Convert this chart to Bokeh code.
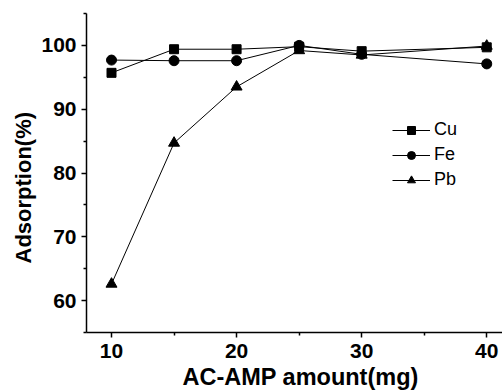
from bokeh.plotting import figure
from bokeh.models import FixedTicker, Legend, LegendItem, Range1d, Title
from bokeh.embed import file_html
from bokeh.resources import INLINE

amount = [10, 15, 20, 25, 30, 40]
cu = [95.7, 99.4, 99.4, 99.8, 99.1, 99.7]
fe = [97.7, 97.6, 97.6, 100.0, 98.6, 97.1]
pb = [62.6, 84.7, 93.5, 99.2, 98.5, 99.9]

x_ticks = [10, 20, 30, 40]
x_minor = [15, 25, 35]
y_ticks = [60, 70, 80, 90, 100]
y_minor = [55, 65, 75, 85, 95, 105]

FONT = "Liberation Sans"

p = figure(width=502, height=390, output_backend="svg", toolbar_location=None,
           x_range=Range1d(8, 41.26), y_range=Range1d(55, 105),
           min_border_left=86, min_border_right=0, min_border_top=13, min_border_bottom=10)
p.outline_line_color = None
p.xgrid.visible = False
p.ygrid.visible = False

for ax in (p.xaxis[0], p.yaxis[0]):
    ax.axis_line_width = 1.5
    ax.major_tick_line_width = 1.5
    ax.minor_tick_line_width = 1.5
    ax.major_tick_in = 0
    ax.major_tick_out = 5
    ax.minor_tick_in = 0
    ax.minor_tick_out = 3
    ax.major_label_text_font = FONT
    ax.major_label_text_font_style = "bold"
    ax.major_label_text_font_size = "21px"
    ax.major_label_text_color = "black"

p.xaxis[0].ticker = FixedTicker(ticks=x_ticks, minor_ticks=x_minor)
p.yaxis[0].ticker = FixedTicker(ticks=y_ticks, minor_ticks=y_minor)
p.xaxis[0].major_label_standoff = 6
p.yaxis[0].major_label_standoff = 5

xt = Title(text="AC-AMP amount(mg)", align="left", offset=96,
           text_font=FONT, text_font_style="bold", text_font_size="23.5px",
           text_color="black", standoff=2)
p.add_layout(xt, "below")

yt = Title(text="Adsorption(%)", align="left", offset=69,
           text_font=FONT, text_font_style="bold", text_font_size="22px",
           text_color="black", standoff=6)
p.add_layout(yt, "left")

p.line(amount, cu, line_color="black", line_width=1)
p.scatter(amount, cu, marker="square", size=9, fill_color="black", line_color="black")
p.line(amount, fe, line_color="black", line_width=1)
p.scatter(amount, fe, marker="circle", size=10, fill_color="black", line_color="black")
p.line(amount, pb, line_color="black", line_width=1)
p.scatter(amount, pb, marker="triangle", size=11, fill_color="black", line_color="black")

# legend-only glyphs (smaller markers, as in the reference key), placed off-range
lg = []
for mk, sz in (("square", 7), ("circle", 8), ("triangle", 9)):
    l = p.line([-100, -99], [-100, -100], line_color="black", line_width=1)
    m = p.scatter([-100], [-100], marker=mk, size=sz, fill_color="black", line_color="black")
    lg.append([l, m])

legend = Legend(items=[
    LegendItem(label="Cu", renderers=lg[0]),
    LegendItem(label="Fe", renderers=lg[1]),
    LegendItem(label="Pb", renderers=lg[2]),
], location=(306, 142), glyph_width=38, glyph_height=20, label_height=20,
    spacing=4, padding=0, margin=0, label_standoff=4,
    border_line_color=None, background_fill_alpha=0,
    label_text_font=FONT, label_text_font_size="18px", label_text_color="black")
p.add_layout(legend, "center")

open("out.html", "w").write(file_html(p, INLINE))
